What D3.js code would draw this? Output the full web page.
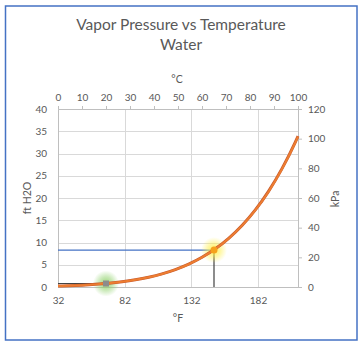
<!DOCTYPE html>
<html>
<head>
<meta charset="utf-8">
<script src="https://cdn.jsdelivr.net/npm/d3@7/dist/d3.min.js"></script>
<style>
  html, body { margin: 0; padding: 0; background: #fff; }
  svg { display: block; }
  text { font-family: Lato, "Open Sans", sans-serif; fill: #595959; }
</style>
</head>
<body>
<svg id="chart" width="363" height="349"></svg>
<script>
// Saturation vapor pressure of water, tabulated by temperature
const tempF = [32, 40, 50, 60, 70, 80, 90, 100, 110, 120, 130, 140, 150, 160, 170, 180, 190, 200, 210, 212];
const pressureKPa = [0.611, 0.839, 1.228, 1.768, 2.505, 3.498, 4.818, 6.552, 8.800, 11.68, 15.34, 19.94, 25.66, 32.72, 41.34, 51.81, 64.42, 79.49, 97.39, 101.33];
const pressureFtH2O = [0.204, 0.281, 0.411, 0.592, 0.838, 1.170, 1.612, 2.192, 2.944, 3.908, 5.132, 6.671, 8.585, 10.947, 13.831, 17.334, 21.553, 26.594, 32.583, 33.901];

// Highlighted operating points
const roomPoint = { f: 68, ft: 0.78 };
const hotPoint = { f: 149, ft: 8.3 };

// Axis ticks
const fTicks = [32, 82, 132, 182];
const cTicks = [0, 10, 20, 30, 40, 50, 60, 70, 80, 90, 100];
const ftTicks = [0, 5, 10, 15, 20, 25, 30, 35, 40];
const kpaTicks = [0, 20, 40, 60, 80, 100, 120];

const svg = d3.select("#chart");
const plot = { left: 58, right: 298, top: 109, bottom: 287 };

const x = d3.scaleLinear().domain([32, 212]).range([plot.left, plot.right]);
const xC = d3.scaleLinear().domain([0, 100]).range([plot.left, plot.right]);
const y = d3.scaleLinear().domain([0, 40]).range([plot.bottom, plot.top]);
const yK = d3.scaleLinear().domain([0, 120]).range([plot.bottom, plot.top]);

// Frame
svg.append("rect").attr("x", 5.5).attr("y", 6).attr("width", 351.5).attr("height", 334)
  .attr("fill", "none").attr("stroke", "#4472C4").attr("stroke-width", 1.5);

// Title
const title = svg.append("text").attr("text-anchor", "middle")
  .style("font-size", "15.5px").style("fill", "#595959");
title.append("tspan").attr("x", 181).attr("y", 30).text("Vapor Pressure vs Temperature");
title.append("tspan").attr("x", 181).attr("y", 50).text("Water");

// Gridlines
const grid = svg.append("g").attr("stroke", "#d9d9d9").attr("stroke-width", 1);
ftTicks.forEach(t => grid.append("line")
  .attr("x1", plot.left).attr("x2", plot.right)
  .attr("y1", Math.round(y(t)) + 0.5).attr("y2", Math.round(y(t)) + 0.5));
fTicks.concat([212]).forEach(t => grid.append("line")
  .attr("x1", Math.round(x(t)) + 0.5).attr("x2", Math.round(x(t)) + 0.5)
  .attr("y1", plot.top).attr("y2", plot.bottom));

// Axes
function styleAxis(g) {
  g.select(".domain").attr("stroke", "#bfbfbf");
  g.selectAll(".tick line").attr("stroke", "#bfbfbf");
  g.selectAll(".tick text").style("font-size", "10px").style("fill", "#595959");
}
svg.append("g").attr("transform", `translate(0,${plot.bottom})`)
  .call(d3.axisBottom(x).tickValues(fTicks).tickSize(0).tickPadding(10).tickSizeOuter(0))
  .call(styleAxis);
svg.append("g").attr("transform", `translate(0,${plot.top})`)
  .call(d3.axisTop(xC).tickValues(cTicks).tickSize(3).tickPadding(5).tickSizeOuter(0))
  .call(styleAxis);
svg.append("g").attr("transform", `translate(${plot.left},0)`)
  .call(d3.axisLeft(y).tickValues(ftTicks).tickSize(0).tickPadding(11).tickSizeOuter(0))
  .call(styleAxis);
svg.append("g").attr("transform", `translate(${plot.right},0)`)
  .call(d3.axisRight(yK).tickValues(kpaTicks).tickSize(4).tickPadding(6).tickSizeOuter(0))
  .call(styleAxis);

// Axis titles
svg.append("text").attr("x", 177).attr("y", 83).attr("text-anchor", "middle")
  .style("font-size", "10.5px").text("°C");
svg.append("text").attr("x", 178).attr("y", 322).attr("text-anchor", "middle")
  .style("font-size", "10.5px").text("°F");
svg.append("text").attr("transform", "translate(31,198) rotate(-90)").attr("text-anchor", "middle")
  .style("font-size", "10.5px").text("ft H2O");
svg.append("text").attr("transform", "translate(339,199) rotate(-90)").attr("text-anchor", "middle")
  .style("font-size", "10.5px").text("kPa");

// Glow definitions
const defs = svg.append("defs");
function glow(id, color) {
  const g = defs.append("radialGradient").attr("id", id);
  g.append("stop").attr("offset", "0%").attr("stop-color", color).attr("stop-opacity", 0.9);
  g.append("stop").attr("offset", "50%").attr("stop-color", color).attr("stop-opacity", 0.5);
  g.append("stop").attr("offset", "100%").attr("stop-color", color).attr("stop-opacity", 0);
}
glow("glowGreen", "#8fd16a");
glow("glowYellow", "#fff04a");

// Guide lines to the highlighted points
svg.append("line").attr("x1", plot.left).attr("x2", x(roomPoint.f))
  .attr("y1", y(roomPoint.ft)).attr("y2", y(roomPoint.ft))
  .attr("stroke", "#404040").attr("stroke-width", 1);
svg.append("line").attr("x1", plot.left).attr("x2", x(hotPoint.f))
  .attr("y1", y(hotPoint.ft)).attr("y2", y(hotPoint.ft))
  .attr("stroke", "#4472C4").attr("stroke-width", 1.2);
svg.append("line").attr("x1", x(hotPoint.f)).attr("x2", x(hotPoint.f))
  .attr("y1", y(hotPoint.ft)).attr("y2", plot.bottom)
  .attr("stroke", "#404040").attr("stroke-width", 1.2);

// Glows behind markers
svg.append("circle").attr("cx", x(roomPoint.f)).attr("cy", y(roomPoint.ft)).attr("r", 13)
  .attr("fill", "url(#glowGreen)");
svg.append("circle").attr("cx", x(hotPoint.f)).attr("cy", y(hotPoint.ft)).attr("r", 13)
  .attr("fill", "url(#glowYellow)");

// Vapor pressure curves (ft H2O on left axis, kPa on right axis)
const lineFt = d3.line().x((d, i) => x(tempF[i])).y(d => y(d)).curve(d3.curveMonotoneX);
const lineK = d3.line().x((d, i) => x(tempF[i])).y(d => yK(d)).curve(d3.curveMonotoneX);
svg.append("path").attr("d", lineFt(pressureFtH2O))
  .attr("fill", "none").attr("stroke", "#c65a2e").attr("stroke-width", 3);
svg.append("path").attr("d", lineK(pressureKPa))
  .attr("fill", "none").attr("stroke", "#ED7D31").attr("stroke-width", 2);

// Markers
svg.append("rect").attr("x", x(roomPoint.f) - 3).attr("y", y(roomPoint.ft) - 3)
  .attr("width", 6).attr("height", 6).attr("fill", "#8c8c8c");
svg.append("circle").attr("cx", x(hotPoint.f)).attr("cy", y(hotPoint.ft)).attr("r", 3.5)
  .attr("fill", "#f5a21c");
</script>
</body>
</html>
